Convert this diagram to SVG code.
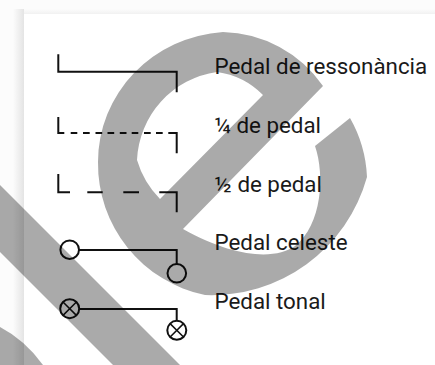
<svg xmlns="http://www.w3.org/2000/svg" width="435" height="365" viewBox="0 0 435 365">
  <defs>
    <linearGradient id="shL" x1="0" y1="0" x2="1" y2="0">
      <stop offset="0" stop-color="#fcfcfc"/>
      <stop offset="1" stop-color="#e4e4e4"/>
    </linearGradient>
    <linearGradient id="shT" x1="0" y1="0" x2="0" y2="1">
      <stop offset="0" stop-color="#fcfcfc"/>
      <stop offset="1" stop-color="#f1f1f1"/>
    </linearGradient>
  </defs>
  <style>
    .sym { fill: none; stroke: #111; stroke-width: 2; stroke-linejoin: miter; }
    .x { fill: none; stroke: #111; stroke-width: 1.5; }
    .lbl { font-family: Roboto, "Liberation Sans", sans-serif; font-size: 22.35px; fill: #1a1a1a; }
    .wm { fill: #000; fill-opacity: 0.333; fill-rule: evenodd; }
  </style>

  <rect x="0" y="0" width="435" height="365" fill="#fcfcfc"/>
  <rect x="13" y="9" width="11" height="356" fill="url(#shL)"/>
  <rect x="24" y="9" width="411" height="5" fill="url(#shT)"/>
  <rect x="24" y="14" width="411" height="351" fill="#ffffff"/>

  <g id="legend-ressonancia">
    <path class="sym" d="M58.3,54.3 V71.7 H176.7 V92.3"/>
    <text class="lbl" x="214.5" y="74">Pedal de ressonància</text>
  </g>

  <g id="legend-quart">
    <path class="sym" d="M58.3,117 V133 H64.3 M70.7,133 H77.3 M83,133 H89.7 M95.5,133 H102.2 M107.5,133 H114.2 M119.8,133 H126.5 M131.7,133 H138.3 M144,133 H150.7 M156,133 H162.7 M168.3,133 H176.7 V153.3"/>
    <text class="lbl" x="214.5" y="132.5">¼ de pedal</text>
  </g>

  <g id="legend-mig">
    <path class="sym" d="M58.3,174 V192.3 H70 M87.3,192.3 H102.7 M123.3,192.3 H139 M159.3,192.3 H176.7 V212.3"/>
    <text class="lbl" x="214.5" y="191.5">½ de pedal</text>
  </g>

  <g id="legend-celeste">
    <circle class="sym" cx="69.7" cy="249.7" r="9.3"/>
    <circle class="sym" cx="176.8" cy="273.3" r="9.3"/>
    <text class="lbl" x="214.5" y="250">Pedal celeste</text>
  </g>

  <g id="legend-tonal">
    <circle class="sym" cx="69.7" cy="308.7" r="9.5"/>
    <path class="x" d="M63,302 L76.4,315.4 M76.4,302 L63,315.4"/>
    <circle class="sym" cx="176.8" cy="330.3" r="9.5"/>
    <path class="x" d="M170.1,323.6 L183.5,337 M183.5,323.6 L170.1,337"/>
    <text class="lbl" x="214.5" y="309">Pedal tonal</text>
  </g>

  <g id="connectors">
    <path class="sym" d="M79,250 H176.7 V264"/>
    <path class="sym" d="M79.2,309 H176.7 V320.8"/>
  </g>

  <g id="watermark">
    <path class="wm" d="M323,86 A125,125 0 0,0 223,32 A134,130 0 0,0 98,162 A134,134 0 0,0 205,295 A161,161 0 0,0 367,177 A130,130 0 0,0 350,118 L315,146 C325,175 322,225 295,246 C275,260 235,258 183,229 Z M160,199 A93,93 0 0,1 137,160 A93,93 0 0,1 217,72 A80,80 0 0,1 263,95 Z"/>
    <path class="wm" d="M0,185 L180,365 L113,365 L0,252 Z"/>
    <path class="wm" d="M0,327 Q25,340 43,365 L0,365 Z"/>
  </g>
</svg>
